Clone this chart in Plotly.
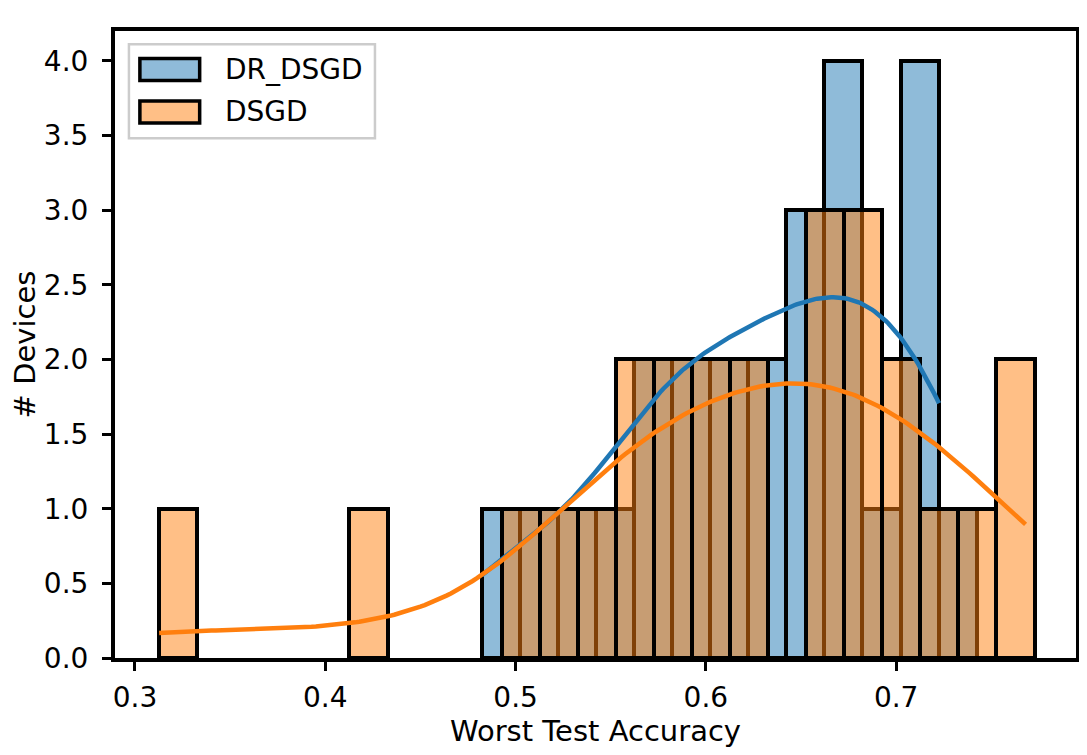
import numpy as np
import plotly.graph_objects as go

# Raw per-device worst test accuracies (estimated from the histogram bins and KDE shape)
dr_dsgd = [0.4823, 0.5047, 0.5275, 0.5618, 0.5695, 0.5723, 0.5837, 0.5871, 0.6033, 0.6104,
           0.6228, 0.6295, 0.6471, 0.6475, 0.6528, 0.6694, 0.6718, 0.6732, 0.6766, 0.7013,
           0.7113, 0.7123, 0.7161, 0.7218, 0.7225]
dsgd = [0.3127, 0.4170, 0.5122, 0.5322, 0.5522, 0.5579, 0.5641, 0.5775, 0.5889, 0.6065,
        0.6122, 0.6265, 0.6322, 0.6551, 0.6589, 0.6613, 0.6746, 0.6822, 0.6836, 0.6984,
        0.7093, 0.7322, 0.7522, 0.7660, 0.7680]
series_names = ["DR_DSGD", "DSGD"]
binwidth = 0.02
x_ticks = [0.3, 0.4, 0.5, 0.6, 0.7]
y_ticks = [0.0, 0.5, 1.0, 1.5, 2.0, 2.5, 3.0, 3.5, 4.0]

fills = ["rgba(31,119,180,0.5)", "rgba(255,127,14,0.5)"]
lines = ["#1f77b4", "#ff7f0e"]
FONT = "DejaVu Sans"


def kde_curve(vals, n_grid=200):
    v = np.asarray(vals, dtype=float)
    n = len(v)
    bw = v.std(ddof=1) * n ** (-1 / 5)
    grid = np.linspace(v.min(), v.max(), n_grid)
    dens = np.exp(-0.5 * ((grid[:, None] - v[None, :]) / bw) ** 2).sum(axis=1)
    dens /= n * bw * np.sqrt(2 * np.pi)
    return grid, dens * n * binwidth


fig = go.Figure()
for vals, name, fc in zip([dr_dsgd, dsgd], series_names, fills):
    start = min(vals)
    nb = int(np.ceil((max(vals) - start) / binwidth + 1e-9))
    fig.add_trace(go.Histogram(
        x=vals, name=name, showlegend=False,
        xbins=dict(start=start, end=start + nb * binwidth, size=binwidth),
        marker=dict(color=fc, line=dict(color="black", width=4)),
    ))

for vals, lc in zip([dr_dsgd, dsgd], lines):
    gx, gy = kde_curve(vals)
    fig.add_trace(go.Scatter(x=gx, y=gy, mode="lines", showlegend=False,
                             line=dict(color=lc, width=4.5), hoverinfo="skip"))

# custom legend (matplotlib style)
shapes = [dict(type="rect", xref="paper", yref="paper", x0=0.0145, x1=0.2705,
               y0=0.829, y1=0.979, line=dict(color="#cccccc", width=2.5),
               fillcolor="rgba(255,255,255,0.8)", layer="above")]
annotations = []
row_y = [0.9387, 0.8709]
for name, fc, ry in zip(series_names, fills, row_y):
    shapes.append(dict(type="rect", xref="paper", yref="paper", x0=0.0259, x1=0.0881,
                       y0=ry - 0.0175, y1=ry + 0.0175, fillcolor=fc,
                       line=dict(color="black", width=3.5), layer="above"))
    annotations.append(dict(xref="paper", yref="paper", x=0.112, y=ry, text=name,
                            showarrow=False, xanchor="left", yanchor="middle",
                            font=dict(family=FONT, size=28, color="black")))

axis_common = dict(showline=True, linecolor="black", linewidth=4, mirror=True,
                   ticks="outside", ticklen=9, tickwidth=3.3, tickcolor="black",
                   showgrid=False, zeroline=False,
                   tickfont=dict(family=FONT, size=28, color="black"))

fig.update_layout(
    width=1079, height=747,
    margin=dict(l=107, r=7, t=23, b=97),
    paper_bgcolor="white", plot_bgcolor="white",
    barmode="overlay", bargap=0,
    shapes=shapes, annotations=annotations,
    xaxis=dict(range=[0.2895, 0.7945], tickvals=x_ticks,
               ticktext=[f"{t:.1f}" for t in x_ticks],
               title=dict(text="Worst Test Accuracy", standoff=6,
                          font=dict(family=FONT, size=29, color="black")),
               ticklabelstandoff=2, **axis_common),
    yaxis=dict(range=[0, 4.2], tickvals=y_ticks,
               ticktext=[f"{t:.1f}" for t in y_ticks],
               title=dict(text="# Devices", standoff=6,
                          font=dict(family=FONT, size=29, color="black")),
               ticklabelstandoff=8, **axis_common),
)

fig.write_html("out.html")
